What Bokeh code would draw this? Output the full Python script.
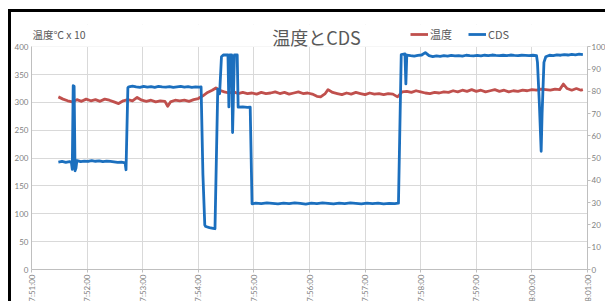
from bokeh.plotting import figure
from bokeh.models import (Range1d, LinearAxis, FixedTicker, Legend, LegendItem, Label,
                          BoxAnnotation)
from bokeh.embed import file_html
from bokeh.resources import INLINE

# ---------------- data ----------------
title_text = "温度とCDS"
axis_title = "温度℃ x 10"
series_names = ["温度", "CDS"]
start_time = "7:51:00"
tick_labels = ["7:51:00", "7:52:00", "7:53:00", "7:54:00", "7:55:00", "7:56:00",
               "7:57:00", "7:58:00", "7:59:00", "8:00:00", "8:01:00"]
left_ticks = [0, 50, 100, 150, 200, 250, 300, 350, 400]
right_ticks = [0, 10, 20, 30, 40, 50, 60, 70, 80, 90, 100]

temp_time = [
    "7:51:29", "7:51:34", "7:51:39", "7:51:44", "7:51:49", "7:51:54", "7:51:59",
    "7:52:04", "7:52:09", "7:52:14", "7:52:19", "7:52:24", "7:52:29", "7:52:34",
    "7:52:39", "7:52:44", "7:52:49", "7:52:54", "7:52:59", "7:53:04", "7:53:09",
    "7:53:14", "7:53:19", "7:53:24", "7:53:27", "7:53:30", "7:53:35", "7:53:40",
    "7:53:45", "7:53:50", "7:53:55", "7:54:00", "7:54:05", "7:54:10", "7:54:15",
    "7:54:19", "7:54:23", "7:54:28", "7:54:33", "7:54:38", "7:54:43", "7:54:48",
    "7:54:53", "7:54:58", "7:55:03", "7:55:08", "7:55:13", "7:55:18", "7:55:23",
    "7:55:28", "7:55:33", "7:55:38", "7:55:43", "7:55:48", "7:55:53", "7:55:58",
    "7:56:03", "7:56:08", "7:56:12", "7:56:17", "7:56:20", "7:56:25", "7:56:30",
    "7:56:35", "7:56:40", "7:56:45", "7:56:50", "7:56:55", "7:57:00", "7:57:05",
    "7:57:10", "7:57:15", "7:57:20", "7:57:25", "7:57:30", "7:57:35", "7:57:40",
    "7:57:45", "7:57:50", "7:57:55", "7:58:00", "7:58:05", "7:58:10", "7:58:15",
    "7:58:20", "7:58:25", "7:58:30", "7:58:35", "7:58:40", "7:58:45", "7:58:50",
    "7:58:55", "7:59:00", "7:59:05", "7:59:10", "7:59:15", "7:59:20", "7:59:25",
    "7:59:30", "7:59:35", "7:59:40", "7:59:45", "7:59:50", "7:59:55", "8:00:00",
    "8:00:05", "8:00:10", "8:00:15", "8:00:20", "8:00:25", "8:00:30", "8:00:34",
    "8:00:38", "8:00:43", "8:00:48", "8:00:53", "8:00:55",
]
temp_value = [
    310, 306, 303, 301, 305, 302, 306,
    303, 305, 302, 306, 304, 301, 298,
    303, 305, 303, 309, 304, 302, 304,
    301, 303, 302, 293, 301, 304, 303,
    304, 302, 305, 307, 312, 318, 322,
    326, 322, 319, 317, 319, 316, 318,
    316, 317, 315, 318, 316, 317, 319,
    316, 318, 315, 317, 319, 316, 317,
    315, 311, 310, 316, 323, 318, 316,
    314, 317, 315, 318, 316, 314, 317,
    315, 316, 314, 316, 315, 310, 319,
    320, 318, 321, 319, 317, 316, 318,
    317, 319, 318, 321, 319, 322, 320,
    323, 320, 322, 319, 321, 323, 320,
    322, 319, 321, 320, 322, 321, 323,
    322, 324, 323, 322, 324, 323, 333,
    325, 322, 325, 322, 323,
]

cds_time = [
    "7:51:29", "7:51:33", "7:51:37", "7:51:41", "7:51:43", "7:51:44", "7:51:45",
    "7:51:46", "7:51:47", "7:51:48", "7:51:49", "7:51:53", "7:51:57", "7:52:01",
    "7:52:05", "7:52:09", "7:52:13", "7:52:17", "7:52:21", "7:52:25", "7:52:29",
    "7:52:33", "7:52:37", "7:52:41", "7:52:42", "7:52:44", "7:52:45", "7:52:49",
    "7:52:53", "7:52:57", "7:53:01", "7:53:05", "7:53:09", "7:53:13", "7:53:17",
    "7:53:21", "7:53:25", "7:53:29", "7:53:33", "7:53:37", "7:53:41", "7:53:45",
    "7:53:49", "7:53:53", "7:53:57", "7:54:01", "7:54:03", "7:54:05", "7:54:07",
    "7:54:08", "7:54:12", "7:54:16", "7:54:18", "7:54:21", "7:54:23", "7:54:25",
    "7:54:27", "7:54:32", "7:54:33", "7:54:34", "7:54:36", "7:54:37", "7:54:39",
    "7:54:42", "7:54:43", "7:54:48", "7:54:53", "7:54:56", "7:54:58", "7:55:02",
    "7:55:08", "7:55:14", "7:55:20", "7:55:26", "7:55:32", "7:55:38", "7:55:44",
    "7:55:50", "7:55:56", "7:56:02", "7:56:08", "7:56:14", "7:56:20", "7:56:26",
    "7:56:32", "7:56:38", "7:56:44", "7:56:50", "7:56:56", "7:57:02", "7:57:08",
    "7:57:14", "7:57:20", "7:57:26", "7:57:32", "7:57:36", "7:57:39", "7:57:43",
    "7:57:44", "7:57:45", "7:57:49", "7:57:53", "7:57:57", "7:58:01", "7:58:05",
    "7:58:09", "7:58:13", "7:58:17", "7:58:21", "7:58:25", "7:58:29", "7:58:33",
    "7:58:37", "7:58:41", "7:58:45", "7:58:49", "7:58:53", "7:58:57", "7:59:01",
    "7:59:05", "7:59:09", "7:59:13", "7:59:17", "7:59:21", "7:59:25", "7:59:29",
    "7:59:33", "7:59:37", "7:59:41", "7:59:45", "7:59:49", "7:59:53", "7:59:57",
    "8:00:01", "8:00:05", "8:00:06", "8:00:08", "8:00:10", "8:00:11", "8:00:13",
    "8:00:15", "8:00:19", "8:00:23", "8:00:27", "8:00:31", "8:00:35", "8:00:39",
    "8:00:43", "8:00:47", "8:00:51", "8:00:55",
]
cds_value = [
    48.2, 48.5, 48.1, 48.4, 48.2, 45.0, 82.5,
    82.3, 44.3, 45.5, 48.9, 48.4, 48.7, 48.5,
    48.9, 48.6, 48.8, 48.4, 48.7, 48.5, 48.3,
    48.1, 48.2, 47.9, 44.8, 81.6, 82.0, 82.3,
    82.0, 81.8, 82.2, 81.9, 82.1, 81.8, 82.2,
    82.0, 81.9, 82.1, 81.8, 82.0, 82.2, 81.9,
    82.1, 81.8, 82.0, 81.9, 82.0, 42.4, 20.0,
    19.3, 18.8, 18.5, 18.3, 81.0, 78.9, 95.5,
    96.3, 96.4, 73.0, 96.3, 96.3, 61.5, 96.3,
    96.3, 72.9, 73.0, 72.8, 72.9, 29.5, 29.8,
    29.6, 29.9, 29.7, 29.5, 29.8, 29.6, 29.9,
    29.7, 29.4, 29.8, 29.6, 29.9, 29.7, 29.5,
    29.8, 29.6, 29.9, 29.7, 29.5, 29.8, 29.6,
    29.8, 29.5, 29.7, 29.6, 29.8, 96.5, 96.8,
    83.3, 96.3, 96.0, 95.8, 96.1, 96.3, 97.4,
    96.0, 95.6, 95.9, 95.7, 96.0, 95.8, 96.1,
    95.9, 96.0, 95.8, 96.2, 96.0, 95.9, 96.1,
    95.9, 96.2, 96.0, 96.3, 96.1, 96.0, 96.2,
    96.0, 96.3, 96.1, 96.0, 96.2, 96.1, 96.0,
    96.2, 96.0, 93.0, 75.0, 53.1, 70.0, 93.0,
    95.5, 96.2, 96.0, 96.4, 96.2, 96.5, 96.3,
    96.6, 96.4, 96.7, 96.5,
]

# ---------------- helpers ----------------
def to_sec(s):
    h, m, sec = (int(v) for v in s.split(":"))
    return h * 3600 + m * 60 + sec

t0 = to_sec(start_time)
temp_x = [to_sec(s) - t0 for s in temp_time]
cds_x = [to_sec(s) - t0 for s in cds_time]
x_ticks = [to_sec(s) - t0 for s in tick_labels]

RED = "#C0504D"
BLUE = "#1B6FBE"
GRID = "#D9D9D9"
AXIS = "#BFBFBF"
LABEL = "#7F7F7F"
TEXT = "#595959"
JP = "Noto Sans CJK JP"
NUM = "Lato"

# head-room above the top tick keeps title / legend / axis title inside the frame
LEFT_TOP = left_ticks[-1] * 1.1
RIGHT_TOP = right_ticks[-1] * 1.1

p = figure(width=597, height=292, output_backend="svg", toolbar_location=None,
           x_range=Range1d(x_ticks[0], x_ticks[-1]),
           y_range=Range1d(left_ticks[0], LEFT_TOP),
           min_border_left=19, min_border_right=0, min_border_top=12,
           min_border_bottom=34)
p.margin = (9, 0, 0, 8)
p.styles = {"border-top": "3px solid #000", "border-left": "3px solid #000"}
p.extra_y_ranges = {"cds": Range1d(right_ticks[0], RIGHT_TOP)}
p.outline_line_color = None
p.background_fill_color = "white"
p.border_fill_color = "white"

# axes
xa = p.xaxis[0]
xa.ticker = FixedTicker(ticks=x_ticks)
xa.major_label_overrides = {t: lab for t, lab in zip(x_ticks, tick_labels)}
xa.major_label_orientation = 1.5708
xa.major_label_text_font = NUM
xa.major_label_text_font_size = "8px"
xa.major_label_text_color = LABEL
xa.axis_line_color = AXIS
xa.major_tick_line_color = AXIS
xa.major_tick_out = 3
xa.major_tick_in = 0
xa.minor_tick_line_color = None
xa.minor_tick_out = 0
xa.major_label_standoff = 2

ya = p.yaxis[0]
ya.ticker = FixedTicker(ticks=left_ticks)
ya.bounds = (left_ticks[0], left_ticks[-1])
ya.major_label_text_font = NUM
ya.major_label_text_font_size = "8px"
ya.major_label_text_color = LABEL
ya.axis_line_color = AXIS
ya.major_tick_line_color = None
ya.major_tick_out = 0
ya.major_tick_in = 0
ya.minor_tick_line_color = None
ya.minor_tick_out = 0
ya.major_label_standoff = 3

ra = LinearAxis(y_range_name="cds", ticker=FixedTicker(ticks=right_ticks),
                bounds=(right_ticks[0], right_ticks[-1]))
ra.major_label_text_font = NUM
ra.major_label_text_font_size = "8px"
ra.major_label_text_color = LABEL
ra.axis_line_color = AXIS
ra.major_tick_line_color = AXIS
ra.major_tick_out = 3
ra.major_tick_in = 0
ra.minor_tick_line_color = None
ra.minor_tick_out = 0
ra.major_label_standoff = 1
p.add_layout(ra, "right")

p.xgrid.grid_line_color = GRID
p.ygrid.grid_line_color = GRID
p.xgrid.ticker = xa.ticker
p.ygrid.ticker = ya.ticker

# white mask over the head-room so the minute grid stops at the top tick
p.add_layout(BoxAnnotation(bottom=left_ticks[-1], fill_color="white", fill_alpha=1,
                           line_alpha=0, level="underlay"))

# series
r_temp = p.line(temp_x, temp_value, line_color=RED, line_width=2.8, line_join="round")
r_cds = p.line(cds_x, cds_value, line_color=BLUE, line_width=2.8, line_join="round",
               y_range_name="cds")

legend = Legend(items=[LegendItem(label=series_names[0], renderers=[r_temp]),
                       LegendItem(label=series_names[1], renderers=[r_cds])],
                orientation="horizontal", location=(379, 227),
                background_fill_alpha=0, border_line_color=None,
                padding=1, margin=0, spacing=16, label_standoff=2,
                glyph_width=18, glyph_height=12, label_height=12,
                label_text_font=JP, label_text_font_size="11px",
                label_text_color=TEXT)
p.add_layout(legend, "center")

p.add_layout(Label(x=(x_ticks[0] + x_ticks[-1]) / 2, y=417, x_offset=7, text=title_text,
                   text_font=JP, text_font_size="18px", text_color=TEXT,
                   text_baseline="middle", text_align="center"))
p.add_layout(Label(x=1, x_units="screen", y=422, text=axis_title,
                   text_font=JP, text_font_size="10.5px", text_color=TEXT,
                   text_baseline="middle", text_align="left"))

open("out.html", "w").write(file_html(p, INLINE))
